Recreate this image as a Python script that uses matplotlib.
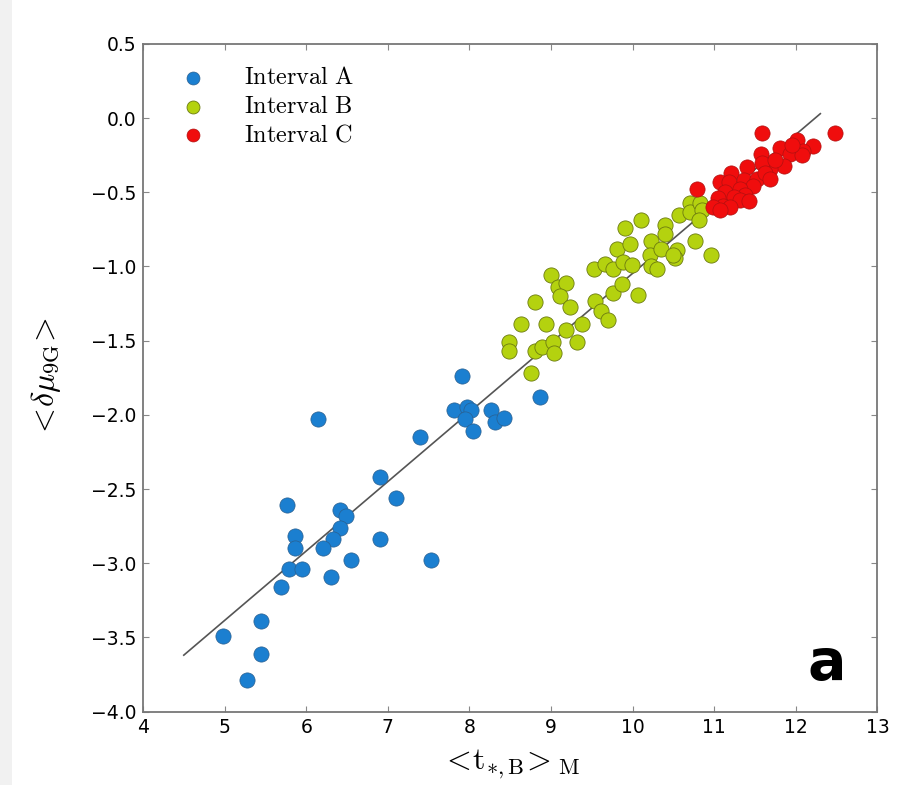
import matplotlib
matplotlib.use("Agg")
import matplotlib.pyplot as plt
from matplotlib.patches import Rectangle

plt.rcParams['mathtext.fontset'] = 'cm'
plt.rcParams['font.family'] = ['DejaVu Sans']

# Interval A
a_x = [7.91, 8.86, 6.15, 7.81, 7.97, 8.02, 7.95, 8.04, 8.26, 8.31, 8.42, 7.40,
       6.91, 7.10, 5.77, 6.41, 6.49, 6.41, 6.33, 6.20, 5.86, 5.86, 6.91, 7.53,
       6.55, 5.79, 5.95, 6.30, 5.69, 5.45, 4.98, 5.44, 5.27]
a_y = [-1.74, -1.88, -2.03, -1.97, -1.95, -1.97, -2.03, -2.11, -1.97, -2.05, -2.02, -2.15,
       -2.42, -2.56, -2.61, -2.64, -2.68, -2.76, -2.84, -2.90, -2.82, -2.90, -2.84, -2.98,
       -2.98, -3.04, -3.04, -3.09, -3.16, -3.39, -3.49, -3.61, -3.79]

# Interval B
b_x = [8.75, 8.49, 8.49, 8.63, 8.80, 8.80, 8.89, 8.94, 9.03, 9.04, 9.00, 9.08,
       9.18, 9.11, 9.23, 9.18, 9.32, 9.38, 9.53, 9.66, 9.54, 9.61, 9.70, 9.76,
       9.76, 9.81, 9.87, 9.88, 9.91, 9.97, 9.99, 10.07, 10.10, 10.23, 10.21, 10.23,
       10.30, 10.35, 10.40, 10.40, 10.54, 10.52, 10.57, 10.70, 10.70, 10.77, 10.83,
       10.85, 10.81, 10.96, 10.50]
b_y = [-1.72, -1.51, -1.57, -1.39, -1.24, -1.57, -1.54, -1.39, -1.51, -1.58, -1.06, -1.14,
       -1.11, -1.20, -1.27, -1.43, -1.51, -1.39, -1.02, -0.98, -1.23, -1.30, -1.36, -1.02,
       -1.18, -0.88, -1.12, -0.97, -0.74, -0.85, -0.99, -1.19, -0.69, -0.83, -0.92, -1.00,
       -1.02, -0.88, -0.72, -0.78, -0.89, -0.94, -0.65, -0.57, -0.63, -0.83, -0.57,
       -0.62, -0.69, -0.92, -0.92]

# Interval C
c_x = [11.58, 12.48, 10.79, 12.01, 12.21, 12.09, 11.81, 11.93, 11.57, 12.07, 11.85,
       11.68, 11.58, 11.40, 11.21, 11.07, 11.18, 11.36, 11.52, 11.62, 11.68, 11.48,
       11.31, 11.13, 11.38, 11.24, 11.05, 11.31, 11.42, 11.11, 10.99, 11.19, 11.07,
       11.95, 11.75]
c_y = [-0.10, -0.10, -0.48, -0.15, -0.19, -0.22, -0.20, -0.24, -0.24, -0.25, -0.32,
       -0.34, -0.30, -0.33, -0.37, -0.43, -0.43, -0.42, -0.41, -0.37, -0.41, -0.46,
       -0.48, -0.50, -0.52, -0.53, -0.54, -0.55, -0.56, -0.59, -0.60, -0.60, -0.62,
       -0.18, -0.28]

# Linear fit endpoints
fit_x = [4.5, 12.3]
fit_y = [-3.62, 0.03]

labels = [r'$\mathrm{Interval\ A}$', r'$\mathrm{Interval\ B}$', r'$\mathrm{Interval\ C}$']
colors = ['#1b7fd0', '#b4d20f', '#f00d0d']

fig = plt.figure(figsize=(9.09, 7.85), dpi=100, facecolor='white')
fig.patches.append(Rectangle((0, 0), 12 / 909, 1, transform=fig.transFigure,
                             facecolor='#f1f1f1', edgecolor='none', zorder=0))
ax = fig.add_axes([0.1573, 0.0936, 0.8080, 0.8504])

ax.plot(fit_x, fit_y, color='#555555', lw=1.2, zorder=1)

ms = 120
ax.scatter(a_x, a_y, s=ms, c=colors[0], edgecolors='#2a5f8f', linewidths=0.5,
           label=labels[0], zorder=2)
ax.scatter(b_x, b_y, s=ms, c=colors[1], edgecolors='#6b7a10', linewidths=0.6,
           label=labels[1], zorder=3)
ax.scatter(c_x, c_y, s=ms, c=colors[2], edgecolors='#b01010', linewidths=0.5,
           label=labels[2], zorder=4)

ax.set_xlim(4, 13)
ax.set_ylim(-4.0, 0.5)
ax.set_xticks(range(4, 14))
ax.set_yticks([-4.0, -3.5, -3.0, -2.5, -2.0, -1.5, -1.0, -0.5, 0.0, 0.5])
ax.set_yticklabels(['\u22124.0', '\u22123.5', '\u22123.0', '\u22122.5', '\u22122.0',
                    '\u22121.5', '\u22121.0', '\u22120.5', '0.0', '0.5'])

ax.tick_params(direction='in', length=4, width=0.8, color='#888888',
               top=True, right=True, labelsize=13.5, pad=5)
for sp in ax.spines.values():
    sp.set_color('#777777')
    sp.set_linewidth(1.3)

ax.set_xlabel(r'$<\!\mathrm{t}_{*,\mathrm{B}}\!>_{\mathrm{M}}$', fontsize=23, labelpad=7)
ax.set_ylabel(r'$<\!\delta\mu_{\mathrm{9G}}\!>$', fontsize=23, labelpad=20)

leg = ax.legend(loc='upper left', frameon=False, scatterpoints=1, fontsize=17.5,
                markerscale=0.85, handletextpad=1.1, labelspacing=0.2,
                borderaxespad=0.0, bbox_to_anchor=(0.022, 0.983))

ax.text(0.931, 0.07, 'a', transform=ax.transAxes, fontsize=41, fontweight='bold',
        ha='center', va='center', color='black')

fig.savefig('out.png', dpi=100, facecolor=fig.get_facecolor())
